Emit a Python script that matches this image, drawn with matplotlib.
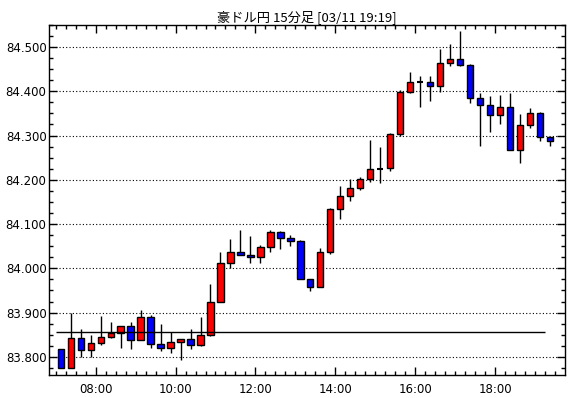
import matplotlib
matplotlib.use("Agg")
import matplotlib.pyplot as plt
from matplotlib.ticker import MultipleLocator, FixedLocator, FuncFormatter

plt.rcParams['font.family'] = ['Liberation Sans Narrow', 'DejaVu Sans']

# 15-minute candles, 07:00 .. 19:15
times = ["07:00", "07:15", "07:30", "07:45", "08:00", "08:15", "08:30", "08:45",
         "09:00", "09:15", "09:30", "09:45", "10:00", "10:15", "10:30", "10:45",
         "11:00", "11:15", "11:30", "11:45", "12:00", "12:15", "12:30", "12:45",
         "13:00", "13:15", "13:30", "13:45", "14:00", "14:15", "14:30", "14:45",
         "15:00", "15:15", "15:30", "15:45", "16:00", "16:15", "16:30", "16:45",
         "17:00", "17:15", "17:30", "17:45", "18:00", "18:15", "18:30", "18:45",
         "19:00", "19:15"]

opens = [83.818, 83.775, 83.842, 83.815, 83.832, 83.845, 83.855, 83.870, 83.838, 83.890,
         83.830, 83.820, 83.834, 83.841, 83.827, 83.850, 83.924, 84.012, 84.037, 84.031,
         84.026, 84.048, 84.082, 84.068, 84.062, 83.976, 83.958, 84.037, 84.135, 84.163,
         84.181, 84.201, 84.225, 84.226, 84.304, 84.398, 84.421, 84.422, 84.411, 84.463,
         84.472, 84.459, 84.384, 84.368, 84.346, 84.364, 84.267, 84.323, 84.350, 84.296]
highs = [83.818, 83.899, 83.863, 83.850, 83.892, 83.879, 83.870, 83.879, 83.907, 83.895,
         83.874, 83.856, 83.841, 83.863, 83.890, 83.965, 84.038, 84.067, 84.087, 84.074,
         84.053, 84.087, 84.085, 84.076, 84.065, 83.976, 84.046, 84.136, 84.186, 84.202,
         84.207, 84.290, 84.275, 84.305, 84.403, 84.444, 84.434, 84.434, 84.495, 84.507,
         84.536, 84.461, 84.395, 84.389, 84.392, 84.397, 84.349, 84.362, 84.353, 84.296]
lows = [83.775, 83.775, 83.800, 83.800, 83.826, 83.843, 83.820, 83.818, 83.838, 83.820,
        83.813, 83.809, 83.792, 83.818, 83.825, 83.847, 83.924, 84.001, 84.030, 84.011,
        84.011, 84.038, 84.044, 84.050, 83.975, 83.948, 83.958, 84.032, 84.111, 84.153,
        84.177, 84.194, 84.192, 84.219, 84.300, 84.396, 84.365, 84.377, 84.399, 84.456,
        84.456, 84.374, 84.277, 84.307, 84.325, 84.267, 84.239, 84.316, 84.287, 84.277]
closes = [83.775, 83.842, 83.815, 83.832, 83.845, 83.855, 83.870, 83.838, 83.890, 83.830,
          83.820, 83.834, 83.841, 83.827, 83.850, 83.924, 84.012, 84.037, 84.030, 84.026,
          84.048, 84.082, 84.068, 84.061, 83.975, 83.958, 84.037, 84.135, 84.163, 84.181,
          84.201, 84.224, 84.225, 84.303, 84.398, 84.420, 84.421, 84.411, 84.463, 84.472,
          84.459, 84.384, 84.368, 84.346, 84.364, 84.267, 84.323, 84.350, 84.296, 84.287]

ref_level = 83.856
ref_start, ref_end = "07:00", "19:15"

y_ticks = [83.8, 83.9, 84.0, 84.1, 84.2, 84.3, 84.4, 84.5]
x_ticks = ["08:00", "10:00", "12:00", "14:00", "16:00", "18:00"]


def to_min(s):
    h, m = s.split(":")
    return int(h) * 60 + int(m)


fig = plt.figure(figsize=(5.7, 3.98), dpi=100)
ax = fig.add_axes([0.0865, 0.0588, 0.9042, 0.8791])

# candles (centred in their 15 minute slot)
for t, o, h, l, c in zip(times, opens, highs, lows, closes):
    x = to_min(t) + 7.5
    ax.vlines(x, l, h, color="black", lw=1, zorder=2)
    if o == c:
        ax.hlines(o, x - 4.8, x + 4.8, color="black", lw=1.5, zorder=3)
    else:
        col = "#ff0000" if c > o else "#0000ff"
        ax.bar(x, abs(c - o), width=9.5, bottom=min(o, c), color=col,
               edgecolor="black", linewidth=1, zorder=3)

ax.hlines(ref_level, to_min(ref_start), to_min(ref_end), color="black", lw=1, zorder=4)

for yv in y_ticks:
    ax.axhline(yv, color="black", lw=0.8, ls=(0, (1, 2)), zorder=1)

ax.set_xlim(410.3, 1184.7)
ax.set_ylim(83.760, 84.5503)

ax.xaxis.set_major_locator(FixedLocator([to_min(s) for s in x_ticks]))
ax.xaxis.set_major_formatter(FuncFormatter(lambda v, p: "%02d:%02d" % (v // 60, v % 60)))
ax.xaxis.set_minor_locator(MultipleLocator(15))
ax.yaxis.set_major_locator(FixedLocator(y_ticks))
ax.yaxis.set_major_formatter(FuncFormatter(lambda v, p: "%.3f" % v))
ax.yaxis.set_minor_locator(MultipleLocator(0.025))

ax.tick_params(which="both", direction="in", top=True, right=True, colors="black",
               labelsize=8.5, width=1)
ax.tick_params(which="major", length=6)
ax.tick_params(which="minor", length=3)
ax.tick_params(axis="x", pad=6)
ax.tick_params(axis="y", pad=2)

for sp in ax.spines.values():
    sp.set_color("black")
    sp.set_linewidth(1)

ax.set_title("豪ドル円 15分足 [03/11 19:19]", fontsize=9.5, pad=3,
             family=['Noto Sans CJK JP', 'DejaVu Sans'])

fig.savefig("out.png", dpi=100)
